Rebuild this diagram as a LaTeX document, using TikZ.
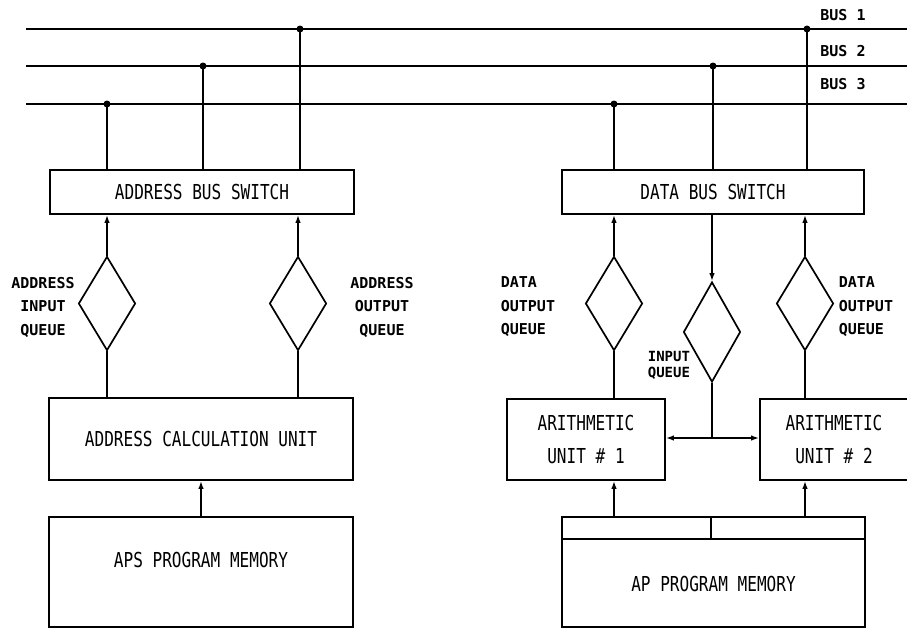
\documentclass[tikz,border=0pt]{standalone}
\usepackage{fontspec}
\newfontfamily\boxfont[FakeStretch=0.78]{DejaVu Sans Mono}
\newfontfamily\lblfont{DejaVu Sans Mono}
\usetikzlibrary{shapes.geometric,arrows.meta}
\begin{document}
\begin{tikzpicture}[x=1pt,y=-1pt,line width=1.7pt,
  box/.style={draw,rectangle,inner sep=0pt,align=center,
    font=\boxfont\fontsize{20.6}{33}\selectfont},
  boxtext/.style={inner sep=0pt,align=center,
    font=\boxfont\fontsize{20.6}{33}\selectfont},
  queue/.style={draw,diamond,inner sep=0pt,minimum width=57pt,minimum height=94pt},
  lbl/.style={inner sep=0pt,font=\lblfont\bfseries\fontsize{15}{23.5}\selectfont},
  dot/.style={circle,fill,inner sep=0pt,minimum size=7pt},
  arr/.style={-{Latex[length=8pt,width=5.5pt]}}]
\useasboundingbox (0,0) rectangle (907,629);

% buses
\coordinate (b1L) at (26,29);  \coordinate (b1R) at (910,29);
\coordinate (b2L) at (26,66);  \coordinate (b2R) at (910,66);
\coordinate (b3L) at (26,104); \coordinate (b3R) at (910,104);
\draw (b1L) -- (b1R);
\draw (b2L) -- (b2R);
\draw (b3L) -- (b3R);
\node[lbl] (bus1) at (843,15.5) {BUS 1};
\node[lbl] (bus2) at (843,51) {BUS 2};
\node[lbl] (bus3) at (843,84) {BUS 3};

% switches
\node[box,minimum width=304pt,minimum height=44pt] (abs) at (202,192) {ADDRESS BUS SWITCH};
\node[box,minimum width=302pt,minimum height=44pt] (dbs) at (713,192) {DATA BUS SWITCH};

% bus taps
\node[dot] (t1) at (107,104) {};
\node[dot] (t2) at (203,66) {};
\node[dot] (t3) at (300,29) {};
\node[dot] (t4) at (614,104) {};
\node[dot] (t5) at (713,66) {};
\node[dot] (t6) at (807,29) {};
\foreach \t in {t1,t2,t3,t4,t5,t6} {
  \draw (\t.center) -- (\t |- abs.north);
}

% lower boxes
\node[box,minimum width=304pt,minimum height=82pt] (acu) at (201,439) {ADDRESS CALCULATION UNIT};
\node[box,minimum width=304pt,minimum height=110pt] (aps) at (201,572) {};
\node[boxtext] (apsT) at (201,559.5) {APS PROGRAM MEMORY};
\node[box,minimum width=158pt,minimum height=81pt] (au1) at (586,439.5) {ARITHMETIC\\UNIT \# 1};
\node[box,minimum width=148pt,minimum height=81pt] (au2) at (834,439.5) {ARITHMETIC\\UNIT \# 2};
\node[box,minimum width=303pt,minimum height=110pt] (apm) at (713.5,572) {};
\node[boxtext] (apmT) at (713.5,583.5) {AP PROGRAM MEMORY};
\coordinate (split) at (711,539);
\draw (apm.west |- split) -- (apm.east |- split);
\draw (split) -- (split |- apm.north);

% queues
\node[queue] (aiq) at (107,303.5) {};
\node[queue] (aoq) at (298,303.5) {};
\node[queue] (doq1) at (614,303.5) {};
\node[queue] (doq2) at (805,303.5) {};
\node[queue,minimum height=100pt] (diq) at (712,332) {};

\foreach \q in {aiq,aoq} {
  \draw[arr] (\q.north) -- (\q |- abs.south);
  \draw (\q.south) -- (\q |- acu.north);
}
\foreach \q/\u in {doq1/au1,doq2/au2} {
  \draw[arr] (\q.north) -- (\q |- dbs.south);
  \draw (\q.south) -- (\q |- \u.north);
  \draw[arr] (\q |- apm.north) -- (\q |- \u.south);
}
\draw[arr] (diq |- dbs.south) -- (diq.north);
\coordinate (j) at (712,438);
\draw (diq.south) -- (j);
\draw[arr] (j) -- (au1.east |- j);
\draw[arr] (j) -- (au2.west |- j);
\draw[arr] (aps.north) -- (acu.south);

% labels
\node[lbl,align=center] (l1) at (43,307) {ADDRESS\\INPUT\\QUEUE};
\node[lbl,align=center] (l2) at (382,307) {ADDRESS\\OUTPUT\\QUEUE};
\node[lbl,align=left,anchor=west] (l3) at (500,307) {DATA\\OUTPUT\\QUEUE};
\node[lbl,align=left,anchor=west] (l4) at (838,307) {DATA\\OUTPUT\\QUEUE};
\node[lbl,align=left,anchor=west,font=\lblfont\bfseries\fontsize{14}{16.5}\selectfont] (l5) at (647,365.5) {INPUT\\QUEUE};
\end{tikzpicture}
\end{document}
